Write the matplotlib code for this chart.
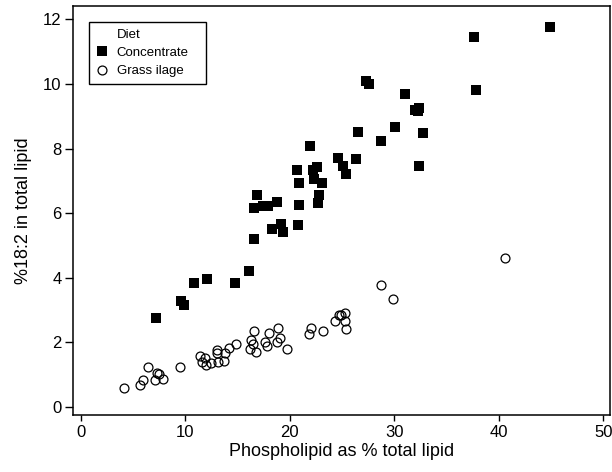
import matplotlib.pyplot as plt
from matplotlib.lines import Line2D

plt.rcParams['font.family'] = ['Liberation Sans', 'DejaVu Sans']

# Concentrate diet: phospholipid % vs %18:2
conc_x = [7.2, 9.6, 9.9, 10.8, 12.1, 14.8, 16.1, 16.6, 16.6, 16.9,
          17.4, 17.9, 18.3, 18.8, 19.2, 19.4, 20.7, 20.8, 20.9, 20.9,
          21.9, 22.2, 22.6, 22.3, 22.8, 22.7, 23.1, 24.6, 25.1, 25.4,
          26.3, 26.5, 27.3, 27.6, 28.7, 30.1, 31.0, 32.0, 32.3, 32.4,
          32.8, 32.4, 37.6, 37.8, 44.9]
conc_y = [2.75, 3.27, 3.17, 3.84, 3.96, 3.84, 4.21, 5.21, 6.16, 6.55,
          6.21, 6.21, 5.50, 6.34, 5.68, 5.43, 7.34, 5.62, 6.93, 6.25,
          8.09, 7.35, 7.44, 7.05, 6.55, 6.30, 6.93, 7.71, 7.46, 7.20,
          7.67, 8.50, 10.09, 10.01, 8.22, 8.68, 9.68, 9.20, 9.15, 9.25,
          8.47, 7.46, 11.46, 9.81, 11.77]

# Grass silage diet
grass_x = [4.1, 5.65, 5.95, 6.45, 7.1, 7.35, 7.5, 7.85, 9.55, 11.37,
           11.6, 11.85, 12.0, 12.45, 13.0, 13.05, 13.1, 13.7, 13.85, 14.2,
           14.9, 16.2, 16.3, 16.55, 16.5, 16.8, 17.6, 17.85, 18.0, 18.75,
           18.9, 19.05, 19.7, 21.85, 22.0, 23.15, 24.3, 24.7, 24.95, 25.25,
           25.3, 25.35, 28.7, 29.9, 40.6]
grass_y = [0.60, 0.67, 0.85, 1.23, 0.85, 1.07, 1.01, 0.88, 1.23, 1.57,
           1.40, 1.52, 1.29, 1.36, 1.76, 1.67, 1.41, 1.43, 1.66, 1.84,
           1.95, 1.80, 2.08, 2.37, 1.95, 1.72, 2.03, 1.89, 2.28, 2.03,
           2.44, 2.13, 1.81, 2.27, 2.44, 2.36, 2.65, 2.84, 2.86, 2.91,
           2.66, 2.43, 3.77, 3.35, 4.62]

fig = plt.figure(figsize=(6.12, 4.72), dpi=100)
ax = fig.add_axes([0.119, 0.121, 0.878, 0.867])

ax.plot(conc_x, conc_y, linestyle='none', marker='s', markersize=6.5,
        color='black', markeredgewidth=0)
ax.plot(grass_x, grass_y, linestyle='none', marker='o', markersize=6.4,
        markerfacecolor='none', markeredgecolor='black', markeredgewidth=0.9)

ax.set_xlim(-0.75, 50.66)
ax.set_ylim(-0.24, 12.42)
ax.set_xticks([0, 10, 20, 30, 40, 50])
ax.set_yticks([0, 2, 4, 6, 8, 10, 12])
ax.tick_params(axis='x', direction='out', length=4.5, width=1, labelsize=12, pad=3)
ax.tick_params(axis='y', direction='out', length=6, width=1, labelsize=12, pad=2)
for s in ax.spines.values():
    s.set_linewidth(1.1)
    s.set_color('black')

ax.set_xlabel('Phospholipid as % total lipid', fontsize=13, labelpad=2)
ax.set_ylabel('%18:2 in total lipid', fontsize=13, labelpad=8)

# legend with "Diet" as a plain first row
handles = [Line2D([], [], linestyle='none'),
           Line2D([], [], linestyle='none', marker='s', markersize=6.5,
                  color='black', markeredgewidth=0),
           Line2D([], [], linestyle='none', marker='o', markersize=6.4,
                  markerfacecolor='none', markeredgecolor='black', markeredgewidth=0.9)]
labels = ['Diet', 'Concentrate', 'Grass ilage']
leg = ax.legend(handles, labels, loc='upper left', bbox_to_anchor=(0.03, 0.0, 0.218, 0.96),
                mode='expand', borderaxespad=0, fontsize=9.5, frameon=True, fancybox=False,
                edgecolor='black', framealpha=1, handlelength=1.0,
                handletextpad=0.6, labelspacing=0.45, borderpad=0.5)
leg.get_frame().set_linewidth(1.0)

fig.savefig('out.png', dpi=100)
